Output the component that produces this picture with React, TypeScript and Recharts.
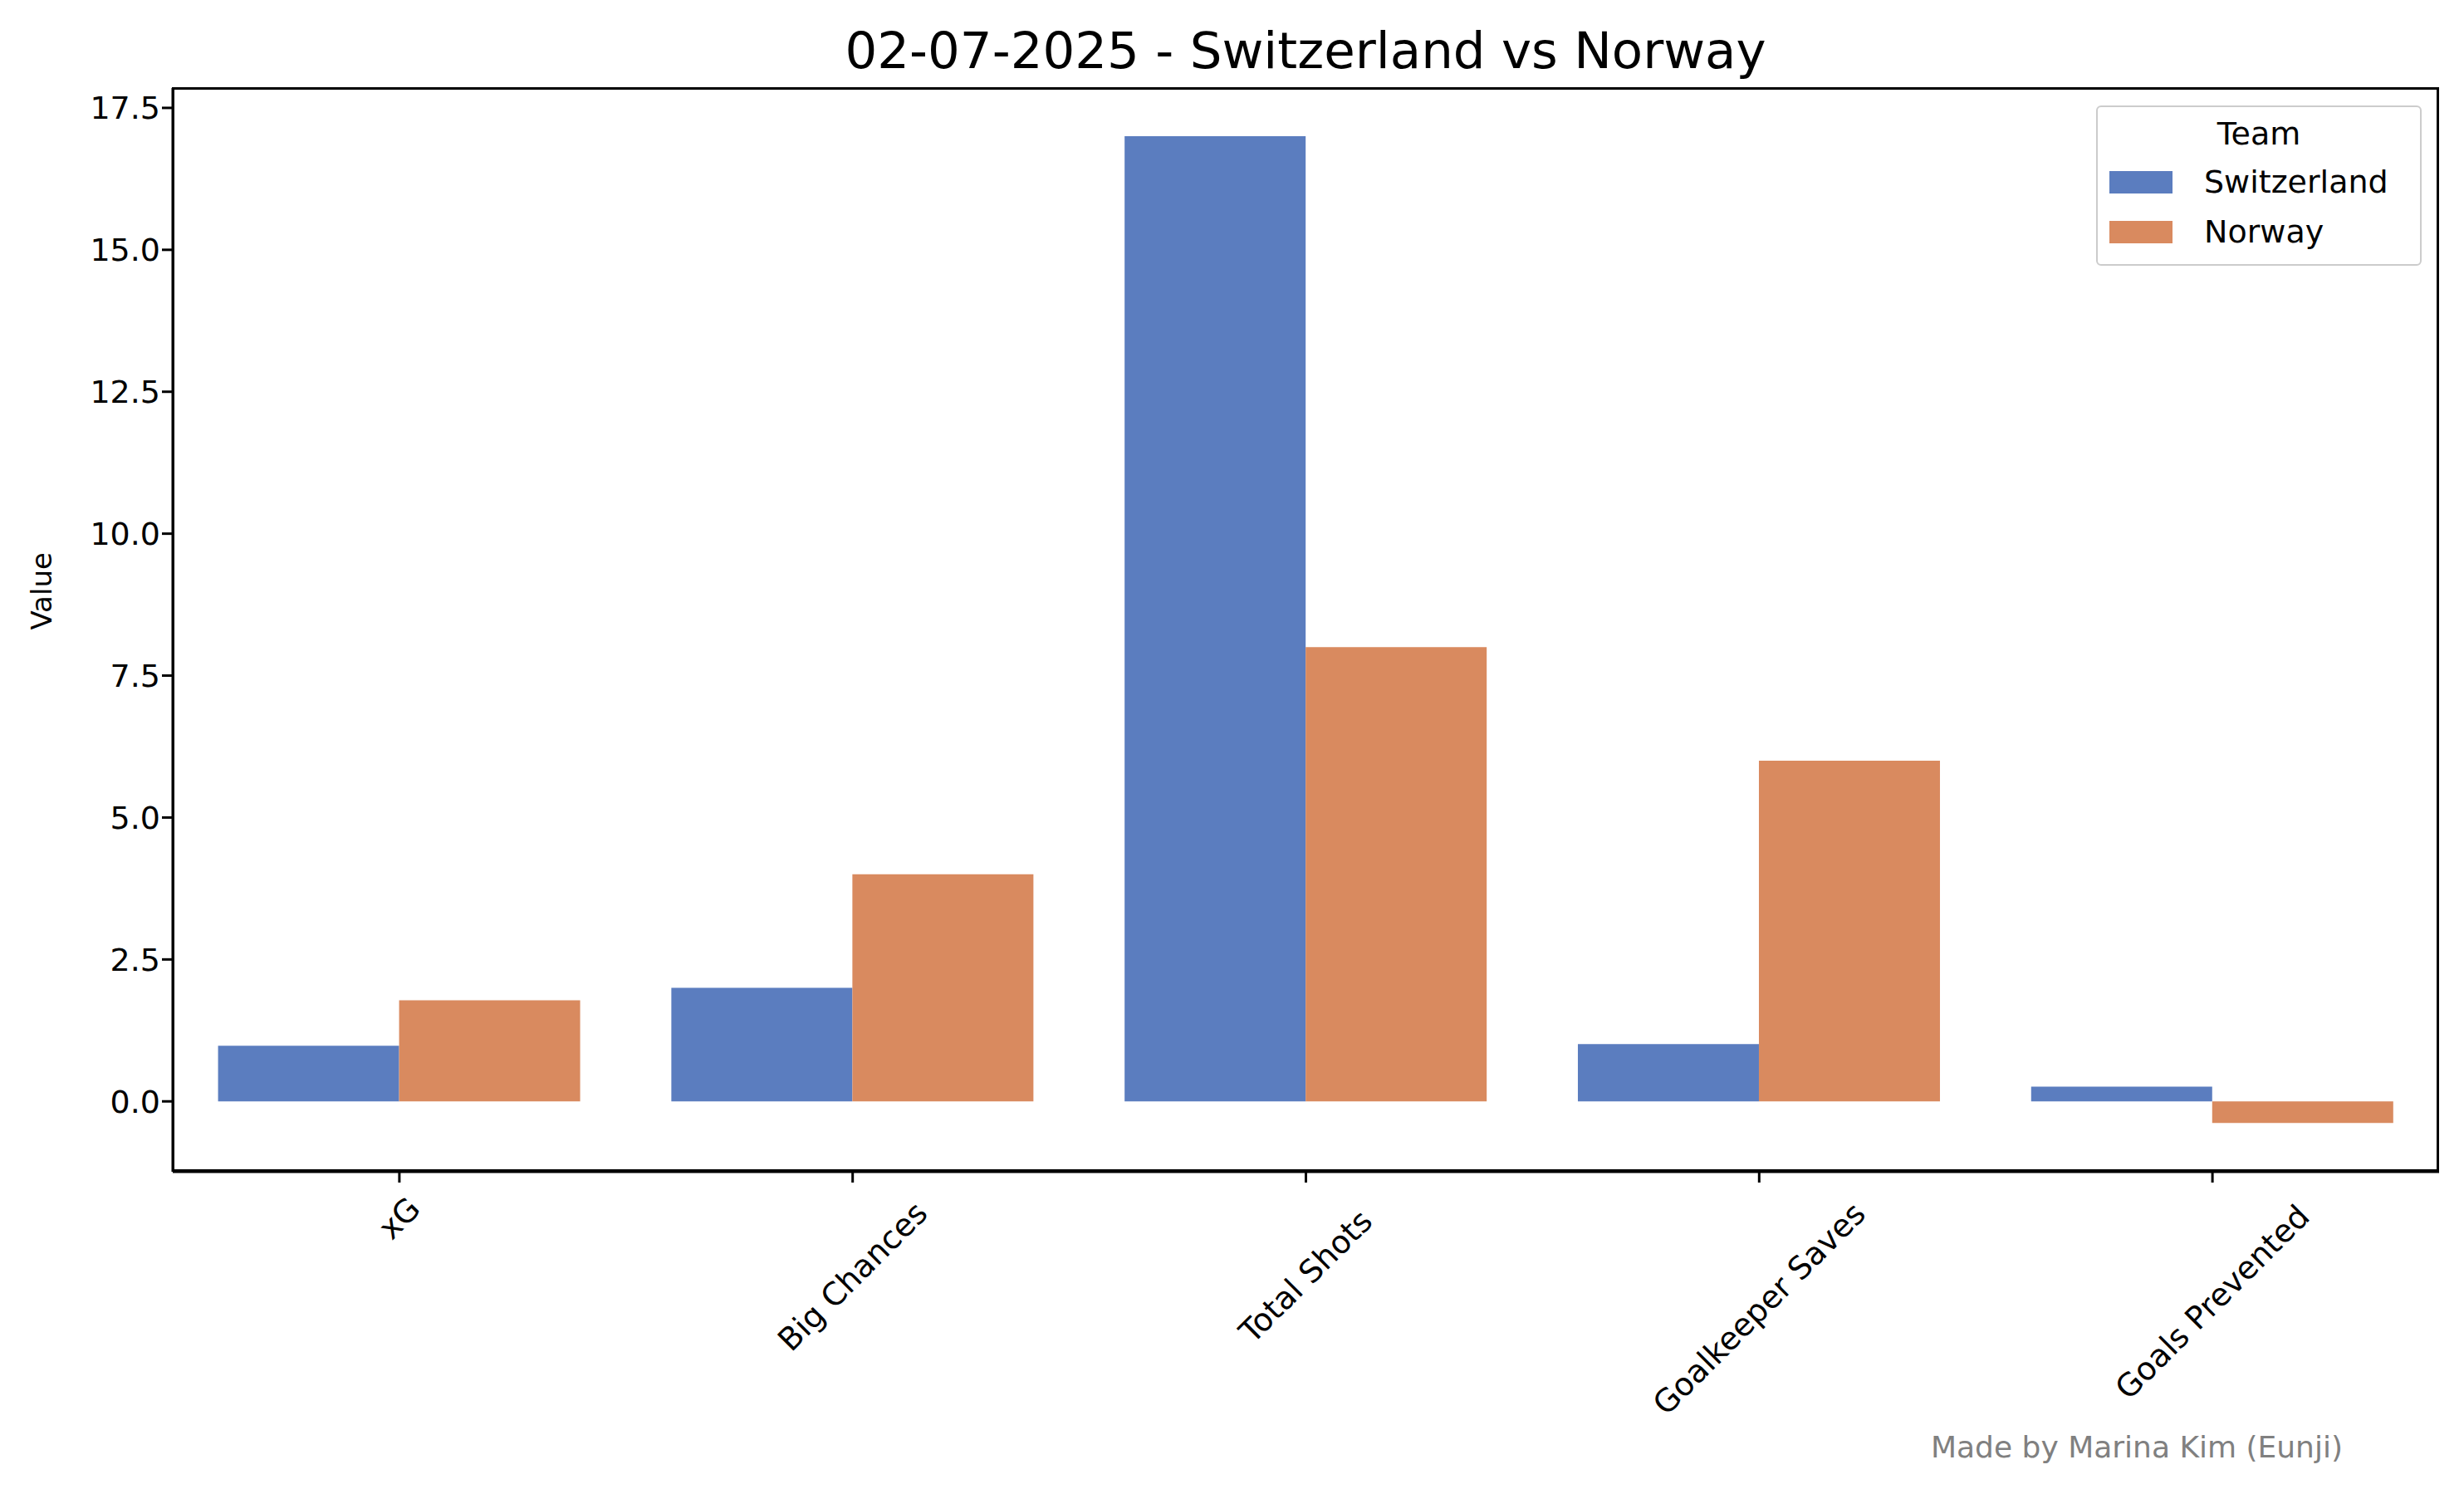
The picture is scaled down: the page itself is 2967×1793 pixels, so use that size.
import React from 'react';
import { BarChart, Bar, XAxis, YAxis } from 'recharts';

// categories and team values
const categories = ['xG', 'Big Chances', 'Total Shots', 'Goalkeeper Saves', 'Goals Prevented'];
const switzerland = [0.98, 2.0, 17.0, 1.01, 0.26];
const norway = [1.78, 4.0, 8.0, 6.0, -0.38];
const yTicks = [0, 2.5, 5, 7.5, 10, 12.5, 15, 17.5];

const data = categories.map((c, i) => ({ name: c, Switzerland: switzerland[i], Norway: norway[i] }));

const BLUE = '#5b7dbf';
const ORANGE = '#d98a5f';
const FONT = 'DejaVu Sans';

// matplotlib style: rotated 45deg, centred under the tick
const XTick = (props: any) => {
  const { x, y, payload } = props;
  const w = payload.value.length * 22;
  const h = (w + 38) * 0.7071;
  const cy = y + 12 + h / 2;
  return (
    <text x={x} y={cy} textAnchor="middle" dominantBaseline="central" fontSize={38} fontFamily={FONT}
      fill="#000" transform={`rotate(-45 ${x} ${cy})`}>
      {payload.value}
    </text>
  );
};

const LegendBox = () => (
  <div style={{ position: 'absolute', left: 2524, top: 127, boxSizing: 'border-box', border: '2px solid #ccc', borderRadius: 6, background: '#fff', width: 392, height: 193, padding: '4px 0 0', fontFamily: FONT, fontSize: 38 }}>
    <div style={{ textAlign: 'center', lineHeight: '56px' }}>Team</div>
    {[['Switzerland', BLUE], ['Norway', ORANGE]].map(([n, c]) => (
      <div key={n} style={{ display: 'flex', alignItems: 'center', lineHeight: '60px' }}>
        <div style={{ width: 76, height: 27, background: c, marginLeft: 14, marginRight: 38 }} />
        <span>{n}</span>
      </div>
    ))}
  </div>
);

export default function App() {
  return (
    <div style={{ position: 'absolute', left: 0, top: 0, width: 2967, height: 1793, background: '#fff' }}>
      <BarChart width={2967} height={1793} data={data}
        margin={{ top: 106, right: 30, left: 88, bottom: 82 }}
        barCategoryGap="10%" barGap={0}>
        <XAxis dataKey="name" tick={<XTick />} tickLine={{ stroke: '#000', strokeWidth: 3 }} tickSize={13}
          axisLine={{ stroke: '#000', strokeWidth: 3 }} height={300} interval={0} />
        <YAxis domain={[-1.24, 17.85]} ticks={yTicks} allowDataOverflow width={120}
          tickFormatter={(v: number) => v.toFixed(1)} tickSize={13}
          tick={{ fontSize: 38, fontFamily: FONT, fill: '#000' }}
          tickLine={{ stroke: '#000', strokeWidth: 3 }} axisLine={{ stroke: '#000', strokeWidth: 3 }}
          label={{ value: 'Value', angle: -90, position: 'insideLeft', offset: -38, fontSize: 34, fontFamily: FONT, fill: '#000' }} />
        <Bar dataKey="Switzerland" fill={BLUE} isAnimationActive={false} />
        <Bar dataKey="Norway" fill={ORANGE} isAnimationActive={false} />
        <text x={1572} y={60} textAnchor="middle" dominantBaseline="central" fontSize={61} fontFamily={FONT} fill="#000">
          02-07-2025 - Switzerland vs Norway
        </text>
        <text x={2573} y={1742} textAnchor="middle" dominantBaseline="central" fontSize={36} fontFamily={FONT} fill="#808080">
          Made by Marina Kim (Eunji)
        </text>
      </BarChart>
      <div style={{ position: 'absolute', left: 207, top: 105, width: 2730, height: 1306, boxSizing: 'border-box', border: '3px solid #000', pointerEvents: 'none' }} />
      <LegendBox />
    </div>
  );
}
